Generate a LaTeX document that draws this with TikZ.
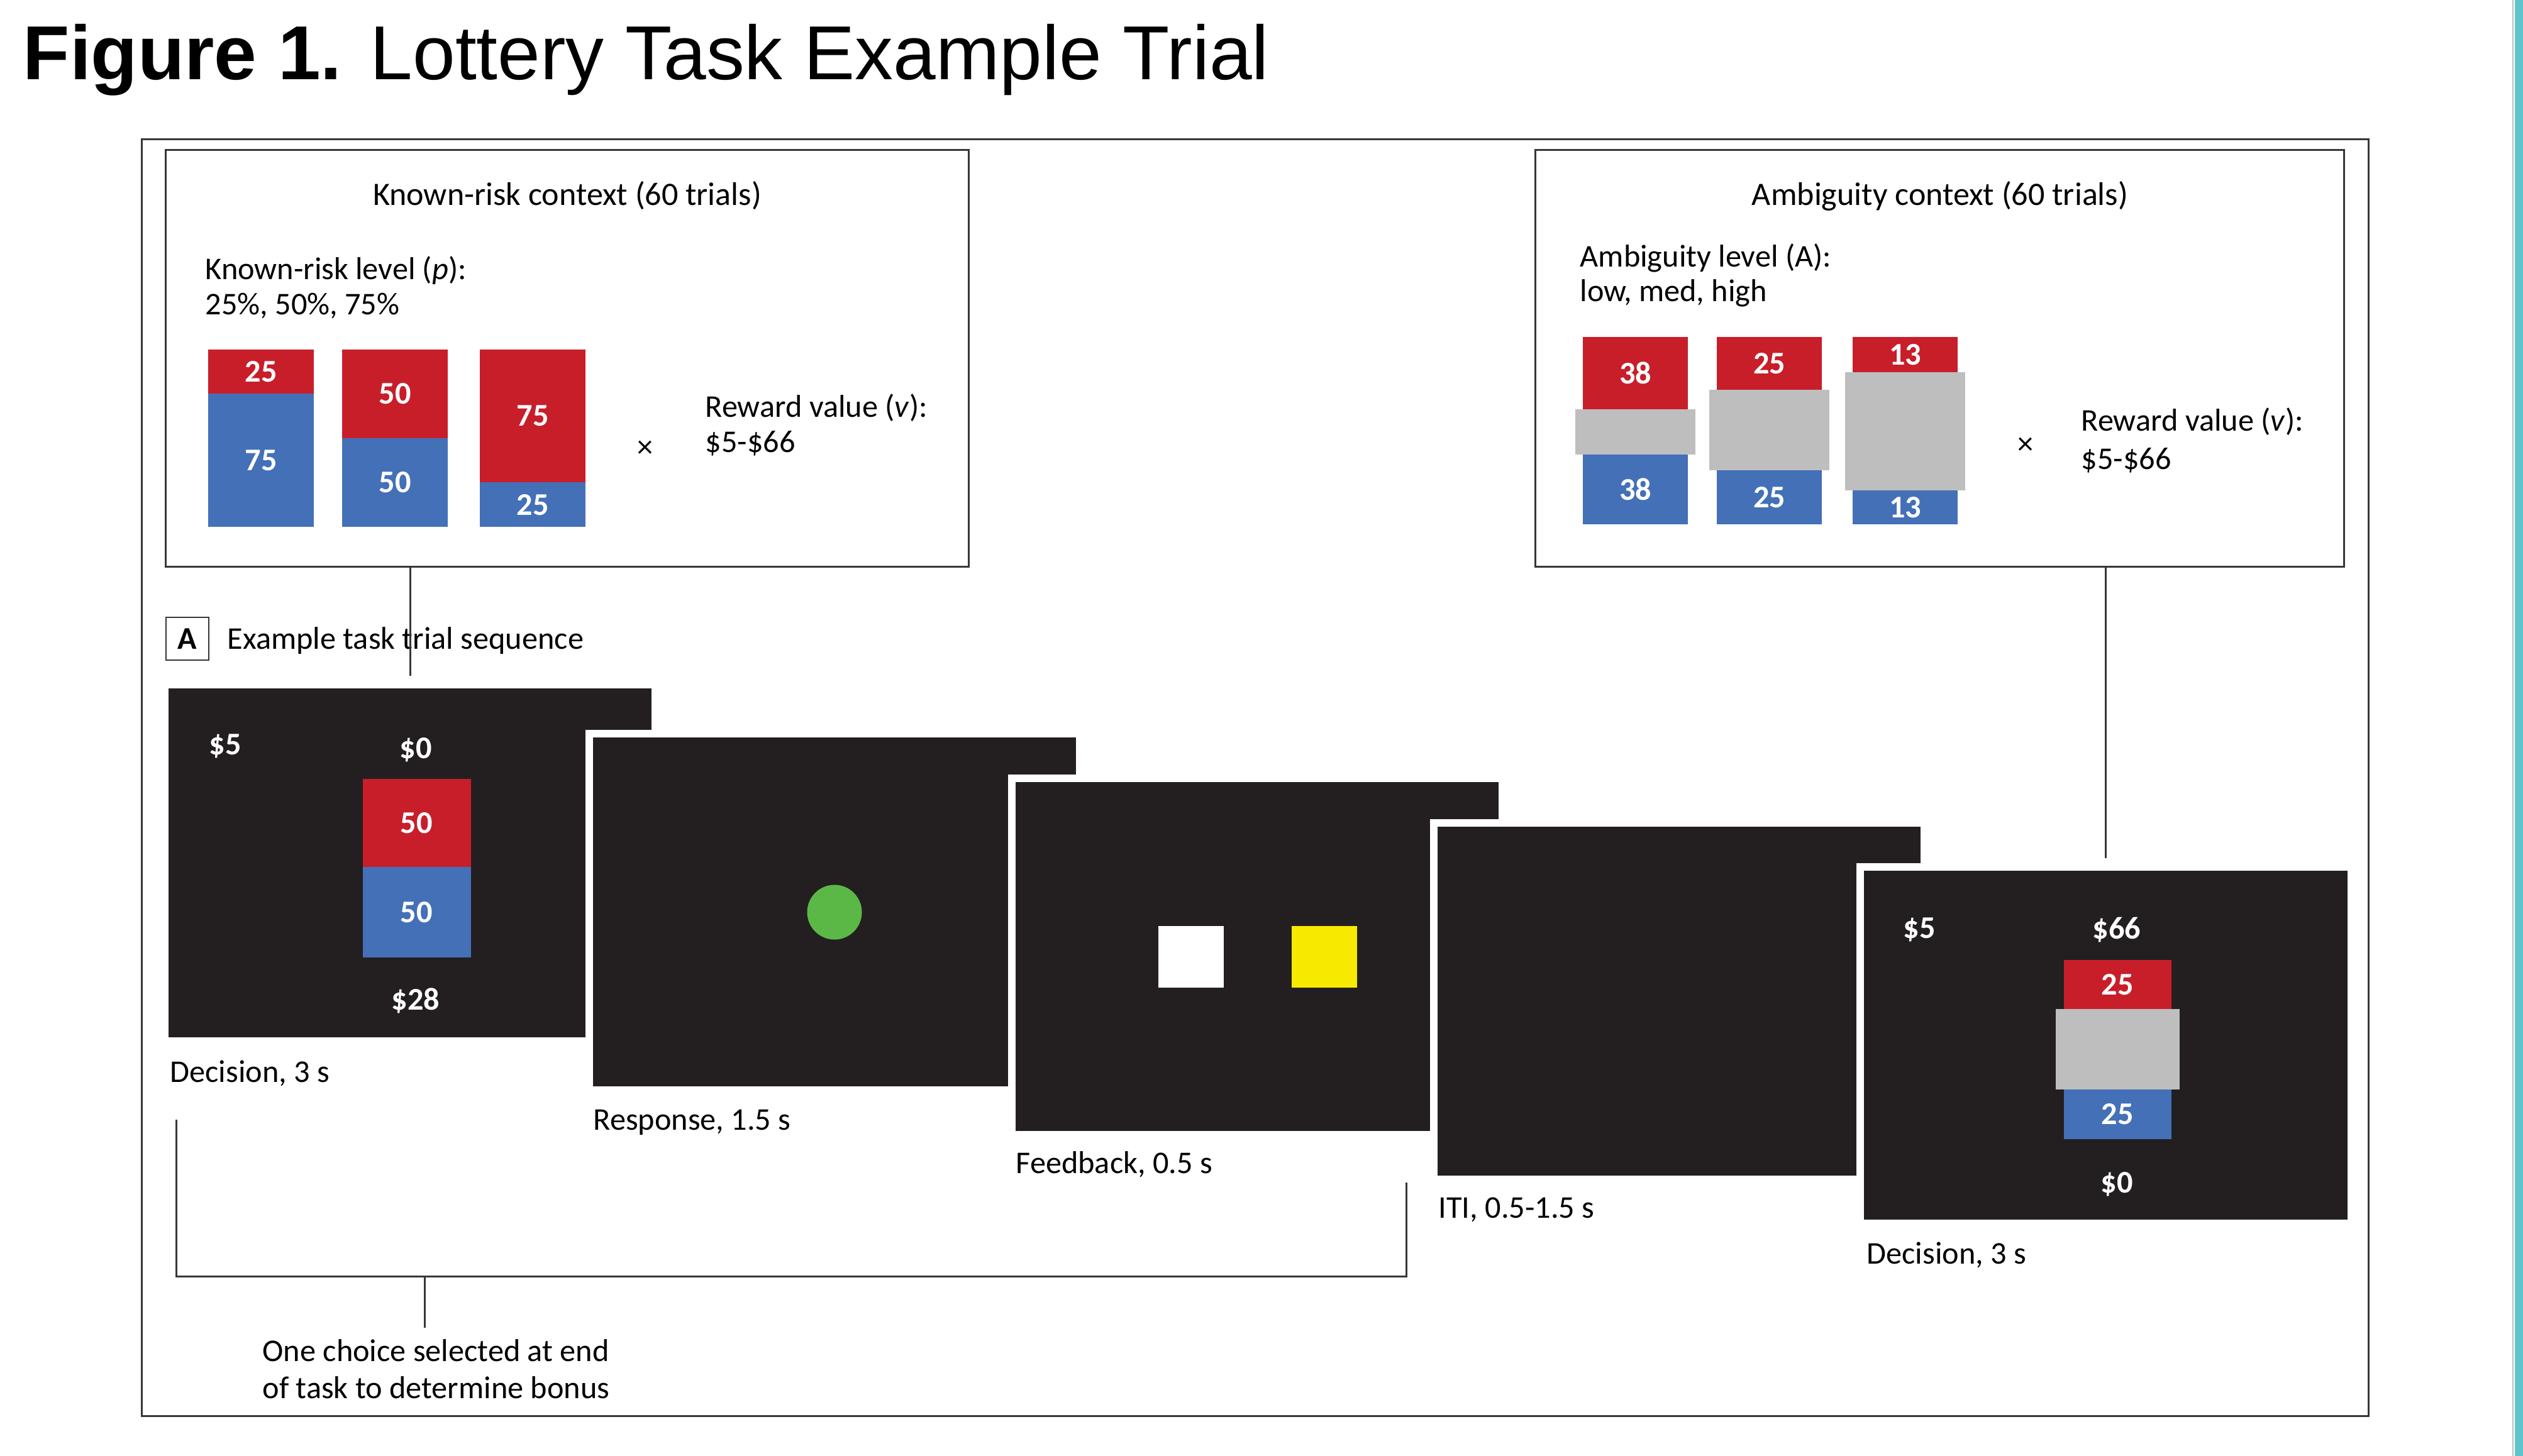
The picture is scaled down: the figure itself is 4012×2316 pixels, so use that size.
\documentclass[tikz,border=0pt]{standalone}
\usepackage{fontspec}
\setmainfont{Carlito}
\newfontfamily\headfont{Liberation Sans}
\usetikzlibrary{positioning}
\definecolor{lotred}{RGB}{200,30,42}
\definecolor{lotblue}{RGB}{68,112,184}
\definecolor{lotgray}{RGB}{190,190,190}
\definecolor{scrdark}{RGB}{35,31,32}
\definecolor{framegray}{RGB}{55,55,55}
\definecolor{cuegreen}{RGB}{92,184,70}
\definecolor{cueyellow}{RGB}{247,234,0}
\definecolor{sidebar}{RGB}{94,197,200}

\tikzset{
  txt/.style={inner sep=0pt, font=\fontsize{14.3}{17.5}\selectfont},
  num/.style={inner sep=0pt, text=white, font=\fontsize{14.3}{17}\selectfont\bfseries},
  ctxbox/.style={draw=framegray, line width=0.03cm, inner sep=0pt, minimum height=6.62cm},
  screenbox/.style={anchor=north west, fill=scrdark, draw=white, line width=0.12cm, inner sep=0pt, outer sep=0pt, minimum width=7.80cm, minimum height=5.67cm},
  link/.style={draw=framegray, line width=0.03cm},
}

\begin{document}
\begin{tikzpicture}[x=0.01cm, y=-0.01cm]
\useasboundingbox (0,0) rectangle (4012,2316);
\fill[white] (0,0) rectangle (4012,2316);

%side strip
\fill[sidebar] (3999,0) rectangle (4012,2316);
\draw[lotgray, line width=0.02cm] (3996,0) -- (3996,2316);

%Title
\node (title) at (36,127) [anchor=base west, inner sep=0pt, font=\headfont\fontsize{34.6}{40}\selectfont] {\textbf{Figure 1.} Lottery Task Example Trial};

%Frame
\draw[framegray, line width=0.03cm] (225,222) rectangle (3766,2252);

%Known-risk context
\node (kbox) at (902,570) [ctxbox, minimum width=12.76cm] {};
\node (ktitle) at (902,327) [txt, anchor=base, font=\fontsize{14.8}{17.5}\selectfont] {Known-risk context (60 trials)};
\node (klevel) at (326,445) [txt, anchor=base west] {Known-risk level (\textit{p}):};
\node (kvals) at (326,501) [txt, anchor=base west] {25\%, 50\%, 75\%};
\foreach \x/\p/\q in {331/25/75, 544/50/50, 763/75/25}{
  \fill[lotred] (\x,556) rectangle ++(168,2.82*\p);
  \fill[lotblue] (\x,556+2.82*\p) rectangle (\x+168,838);
  \node (kr\p) at (\x+84,556+1.41*\p) [num] {\p};
  \node (kb\p) at (\x+84,697+1.41*\p) [num] {\q};
}
\node (ktimes) at (1026,714) [txt] {×};
\node (kreward) at (1121,664) [txt, anchor=base west] {Reward value (\textit{v}):};
\node (krange) at (1121,720) [txt, anchor=base west] {\$5-\$66};

%Ambiguity context
\node (abox) at (3084.5,570) [ctxbox, minimum width=12.85cm] {};
\node (atitle) at (3085,327) [txt, anchor=base, font=\fontsize{14.8}{17.5}\selectfont] {Ambiguity context (60 trials)};
\node (alevel) at (2512,425) [txt, anchor=base west] {Ambiguity level (A):};
\node (avals) at (2512,480) [txt, anchor=base west] {low, med, high};
\foreach \x/\r/\g/\n in {2517/651/723/38, 2730/620/748/25, 2946/592/780/13}{
  \fill[lotred] (\x,536) rectangle (\x+167,\r);
  \fill[lotgray] (\x-12,\r) rectangle (\x+179,\g);
  \fill[lotblue] (\x,\g) rectangle (\x+167,834);
  \node (ar\n) at (\x+83.5,{(536+\r)/2}) [num] {\n};
  \node (ab\n) at (\x+83.5,{(\g+834)/2}) [num] {\n};
}
\node (atimes) at (3221,709) [txt] {×};
\node (areward) at (3309,686) [txt, anchor=base west] {Reward value (\textit{v}):};
\node (arange) at (3309,747) [txt, anchor=base west] {\$5-\$66};

%Panel A
\node (alabel) at (298,1016) [draw=framegray, line width=0.02cm, minimum width=0.68cm, minimum height=0.68cm, inner sep=0pt, font=\fontsize{14.3}{17}\selectfont\bfseries] {A};
\node (seq) at (361,1032) [txt, anchor=base west] {Example task trial sequence};

%Screens
\node (s1) at (262,1089) [screenbox] {};
\node (s2) at (937,1167) [screenbox] {};
\node (s3) at (1609,1238) [screenbox] {};
\node (s4) at (2280,1309) [screenbox] {};
\node (s5) at (2958,1379) [screenbox] {};

%Decision (known risk)
\node (s1left) at (358,1187) [num] {\$5};
\node (s1top) at (661,1193) [num] {\$0};
\fill[lotred] (577,1239) rectangle (749,1379);
\fill[lotblue] (577,1379) rectangle (749,1523);
\node (s1p) at (662,1309) [num] {50};
\node (s1q) at (662,1451) [num] {50};
\node (s1low) at (661,1592) [num] {\$28};

%Response
\node (cue) at (1327,1451) [circle, fill=cuegreen, minimum size=0.87cm, inner sep=0pt] {};

%Feedback
\node (fbwhite) at (1894,1522) [fill=white, minimum width=1.04cm, minimum height=0.97cm, inner sep=0pt] {};
\node (fbyellow) at (2106,1522) [fill=cueyellow, minimum width=1.03cm, minimum height=0.97cm, inner sep=0pt] {};

%Decision (ambiguity)
\node (s5left) at (3052,1479) [num] {\$5};
\node (s5top) at (3366,1479) [num] {\$66};
\fill[lotred] (3282,1527) rectangle (3453,1605);
\fill[lotgray] (3269,1605) rectangle (3466,1733);
\fill[lotblue] (3282,1733) rectangle (3453,1812);
\node (s5p) at (3367,1566) [num] {25};
\node (s5q) at (3367,1772) [num] {25};
\node (s5low) at (3366,1884) [num] {\$0};

%Labels
\node (d1) at ([shift={(0.08cm,-0.65cm)}]s1.south west) [txt, anchor=base west] {Decision, 3 s};
\node (d2) at ([shift={(0.06cm,-0.63cm)}]s2.south west) [txt, anchor=base west] {Response, 1.5 s};
\node (d3) at ([shift={(0.06cm,-0.61cm)}]s3.south west) [txt, anchor=base west] {Feedback, 0.5 s};
\node (d4) at ([shift={(0.07cm,-0.61cm)}]s4.south west) [txt, anchor=base west] {ITI, 0.5-1.5 s};
\node (d5) at ([shift={(0.10cm,-0.64cm)}]s5.south west) [txt, anchor=base west] {Decision, 3 s};

%Links
\draw[link] (kbox.south -| s1.north) -- ([yshift=0.14cm]s1.north);
\draw[link] (abox.south -| s5.north) -- ([yshift=0.14cm]s5.north);

%Bonus bracket
\coordinate (bl) at (280,1781);
\coordinate (br) at (2236,1881);
\coordinate (bb) at (675,2030);
\coordinate (stem) at (675,2112);
\draw[link] (bl) |- (bb) -| (br);
\draw[link] (bb) -- (stem);
\node (bonus) at (417,2130) [txt, anchor=north west, align=left, font=\fontsize{14.3}{16.8}\selectfont] {One choice selected at end\\of task to determine bonus};
\end{tikzpicture}
\end{document}
